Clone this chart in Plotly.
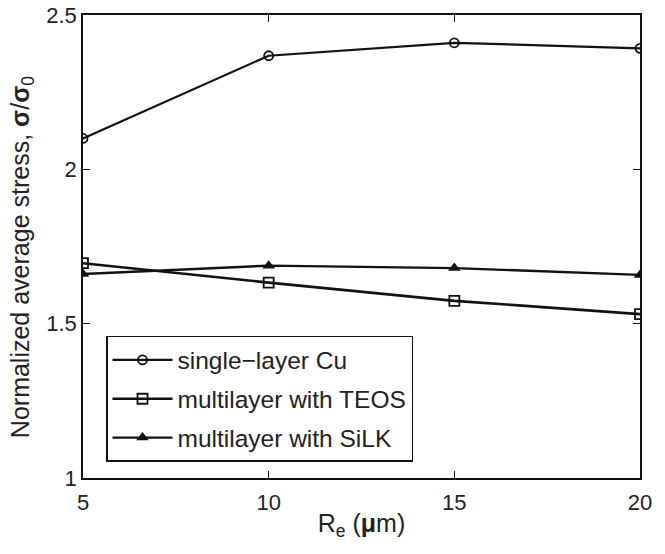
import plotly.graph_objects as go

re_um = [5, 10, 15, 20]
single_layer_cu = [2.10, 2.368, 2.41, 2.392]
multilayer_teos = [1.696, 1.633, 1.574, 1.531]
multilayer_silk = [1.661, 1.688, 1.680, 1.658]

series_names = ["single\u2212layer Cu", "multilayer with TEOS", "multilayer with SiLK"]
x_ticks = [5, 10, 15, 20]
y_ticks = [1, 1.5, 2, 2.5]
y_ticktext = ["1", "1.5", "2", "2.5"]

LINE = "#111111"
TEXT = "#222222"
FONT = "Liberation Sans, Arial, sans-serif"

fig = go.Figure()
fig.add_trace(go.Scatter(
    x=re_um, y=single_layer_cu, name=series_names[0], legendgroup="a",
    mode="lines+markers",
    line=dict(color=LINE, width=2.2),
    marker=dict(symbol="circle-open", size=9, color=LINE, line=dict(width=1.8)),
))
fig.add_trace(go.Scatter(
    x=re_um, y=multilayer_teos, name=series_names[1], legendgroup="b",
    mode="lines+markers",
    line=dict(color=LINE, width=2.6),
    marker=dict(symbol="square-open", size=10, color=LINE, line=dict(width=1.8)),
))
fig.add_trace(go.Scatter(
    x=re_um, y=multilayer_silk, name=series_names[2], legendgroup="c",
    mode="lines+markers",
    line=dict(color=LINE, width=2.4),
    marker=dict(symbol="triangle-up", size=11, color=LINE),
))

axis_common = dict(
    showline=True, linecolor=LINE, linewidth=1.6, mirror="ticks",
    ticks="inside", ticklen=7, tickwidth=1.4, tickcolor=LINE,
    showgrid=False, zeroline=False, automargin=False,
    tickfont=dict(family=FONT, size=22, color=TEXT),
)

fig.update_layout(
    width=665, height=554,
    margin=dict(l=83, r=25, t=15, b=76),
    paper_bgcolor="white", plot_bgcolor="white",
    font=dict(family=FONT, color=TEXT),
    xaxis=dict(range=[5, 20], tickvals=x_ticks, ticklabelstandoff=4,
               title=dict(text="R<sub>e</sub> (<b>\u03bc</b>m)",
                          font=dict(family=FONT, size=25, color=TEXT), standoff=0),
               **axis_common),
    yaxis=dict(range=[1, 2.5], tickvals=y_ticks, ticktext=y_ticktext,
               **axis_common),
    legend=dict(
        x=0.0413, y=0.3067, xanchor="left", yanchor="top",
        bgcolor="white", bordercolor=LINE, borderwidth=1.5,
        font=dict(family=FONT, size=24.5, color=TEXT),
        itemwidth=60, tracegroupgap=4, traceorder="grouped",
    ),
)

# y-axis title, placed as in the reference (slightly below the plot centre)
fig.add_annotation(
    text="Normalized average stress, <b>\u03c3</b>/<b>\u03c3</b><sub>0</sub>",
    xref="paper", yref="paper", x=-0.1095, y=0.477,
    xanchor="center", yanchor="middle", textangle=-90, showarrow=False,
    font=dict(family=FONT, size=25, color=TEXT),
)

fig.write_html("out.html", post_script="document.body.style.margin='0';",
               config={"displayModeBar": False})
